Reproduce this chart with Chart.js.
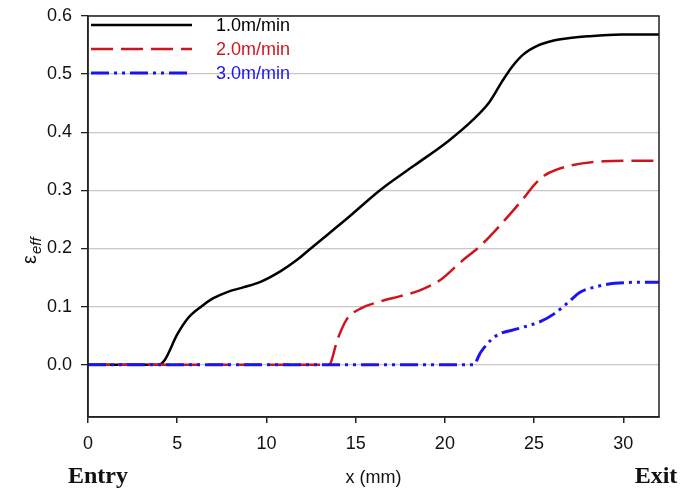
<!DOCTYPE html>
<html>
<head>
<meta charset="utf-8">
<script src="https://cdn.jsdelivr.net/npm/chart.js@4.4.1/dist/chart.umd.min.js"></script>
<style>
  html, body { margin: 0; padding: 0; background: #fff; }
  #wrap { width: 685px; height: 491px; position: relative; }
</style>
</head>
<body>
<div id="wrap"><canvas id="strainChart"></canvas></div>
<script>
// Effective strain along the die (x in mm) for three drawing speeds
const seriesLabels = ["1.0m/min", "2.0m/min", "3.0m/min"];

const x1 = [0, 4.0, 4.3, 5.0, 5.6, 6.3, 7.0, 7.8, 8.7, 9.7, 10.8, 11.7, 12.6, 14.5, 16.4, 18.3, 20.2, 21.6, 22.5, 23.2, 23.8, 24.4, 25.2, 26.1, 27.0, 28.0, 29.9, 32];
const y1 = [0, 0, 0.008, 0.052, 0.08, 0.099, 0.114, 0.125, 0.133, 0.143, 0.161, 0.18, 0.203, 0.251, 0.301, 0.343, 0.385, 0.422, 0.452, 0.487, 0.514, 0.534, 0.549, 0.558, 0.562, 0.565, 0.568, 0.568];

const x2 = [0, 13.5, 14.0, 14.5, 15.3, 16.4, 17.5, 18.6, 19.8, 20.9, 22.0, 23.1, 24.4, 25.0, 25.6, 26.3, 27.1, 28.9, 30.5, 32];
const y2 = [0, 0, 0.045, 0.078, 0.097, 0.109, 0.118, 0.128, 0.147, 0.177, 0.205, 0.24, 0.286, 0.309, 0.326, 0.336, 0.343, 0.35, 0.351, 0.351];

const x3 = [0, 21.6, 22.0, 22.6, 23.0, 24.1, 25.4, 26.1, 26.9, 27.6, 28.6, 29.5, 31.7, 32];
const y3 = [0, 0, 0.021, 0.043, 0.052, 0.062, 0.075, 0.087, 0.107, 0.125, 0.135, 0.14, 0.142, 0.142];

const yTicks = [0, 0.1, 0.2, 0.3, 0.4, 0.5, 0.6];
const xTicks = [0, 5, 10, 15, 20, 25, 30];

const toPoints = (xs, ys) => xs.map((x, i) => ({ x: x, y: ys[i] }));

const AXIS_FONT = "'Liberation Sans', Arial, sans-serif";

const extras = {
  id: "extras",
  afterDraw(chart) {
    const c = chart.ctx;
    const a = chart.chartArea;
    c.save();
    // frame
    c.strokeStyle = "#222";
    c.lineWidth = 1.5;
    c.strokeRect(a.left, a.top, a.right - a.left, a.bottom - a.top);

    // legend
    const rows = [25, 49, 73];
    chart.data.datasets.forEach((ds, i) => {
      c.beginPath();
      c.setLineDash(ds.borderDash || []);
      c.strokeStyle = ds.borderColor;
      c.lineWidth = ds.borderWidth;
      c.moveTo(91, rows[i]);
      c.lineTo(192, rows[i]);
      c.stroke();
      c.setLineDash([]);
      c.fillStyle = ds.borderColor;
      c.font = "18px " + AXIS_FONT;
      c.textBaseline = "middle";
      c.textAlign = "left";
      c.fillText(ds.label, 216, rows[i] + 1);
    });

    // axis titles
    c.fillStyle = "#111";
    c.font = "18px " + AXIS_FONT;
    c.textAlign = "center";
    c.textBaseline = "middle";
    c.fillText("x (mm)", (a.left + a.right) / 2, 478);

    c.font = "bold 24px 'Liberation Serif', 'Times New Roman', serif";
    c.fillText("Entry", 98, 477);
    c.fillText("Exit", 656, 477);

    // y title: epsilon with italic subscript
    c.translate(36, 250);
    c.rotate(-Math.PI / 2);
    c.textAlign = "left";
    c.textBaseline = "alphabetic";
    c.font = "20px " + AXIS_FONT;
    c.fillText("\u03B5", -14, 0);
    c.font = "italic 15px " + AXIS_FONT;
    c.fillText("eff", -4, 5);
    c.restore();
  }
};

new Chart(document.getElementById("strainChart"), {
  type: "line",
  data: {
    datasets: [
      {
        label: seriesLabels[0],
        data: toPoints(x1, y1),
        borderColor: "#000000",
        borderWidth: 2.5,
        order: 3
      },
      {
        label: seriesLabels[1],
        data: toPoints(x2, y2),
        borderColor: "#d0141c",
        borderWidth: 2.5,
        borderDash: [22, 8],
        order: 2
      },
      {
        label: seriesLabels[2],
        data: toPoints(x3, y3),
        borderColor: "#1a14f5",
        borderWidth: 3,
        borderDash: [18, 5, 3, 5, 3, 5],
        order: 1
      }
    ]
  },
  options: {
    responsive: true,
    maintainAspectRatio: false,
    animation: false,
    layout: { padding: { top: 16, right: 26, left: 0, bottom: 0 } },
    elements: {
      point: { radius: 0 },
      line: { cubicInterpolationMode: "monotone", fill: false }
    },
    plugins: {
      legend: { display: false },
      tooltip: { enabled: false }
    },
    scales: {
      x: {
        type: "linear",
        min: 0,
        max: 32,
        afterFit(scale) { scale.height = 74; scale.paddingLeft = 0; scale.paddingRight = 0; },
        afterBuildTicks(scale) { scale.ticks = xTicks.map(v => ({ value: v })); },
        border: { display: true, color: "#222", width: 1.5 },
        grid: { drawOnChartArea: false, tickLength: 6, tickColor: "#222", lineWidth: 1.5 },
        ticks: {
          color: "#111",
          font: { family: AXIS_FONT, size: 18 },
          padding: 10,
          maxRotation: 0
        }
      },
      y: {
        min: -0.09,
        max: 0.6,
        afterFit(scale) { scale.width = 88; scale.paddingTop = 0; scale.paddingBottom = 0; },
        afterBuildTicks(scale) { scale.ticks = yTicks.map(v => ({ value: v })); },
        border: { display: true, color: "#222", width: 1.5 },
        grid: {
          color: "#c8c8c8",
          lineWidth: 1.3,
          tickLength: 7,
          tickColor: "#222"
        },
        ticks: {
          color: "#111",
          font: { family: AXIS_FONT, size: 18 },
          padding: 9,
          callback: v => Number(v).toFixed(1)
        }
      }
    }
  },
  plugins: [extras]
});
</script>
</body>
</html>
